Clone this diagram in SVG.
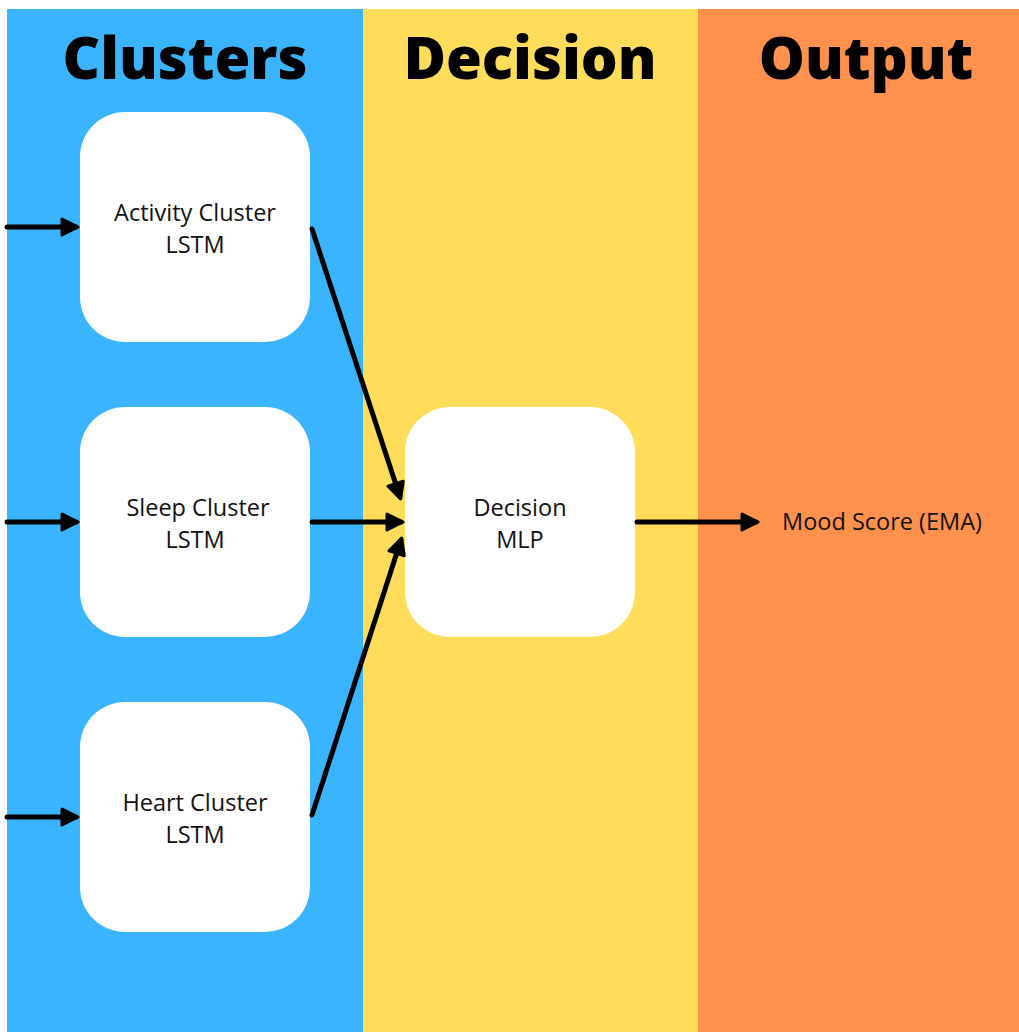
<svg xmlns="http://www.w3.org/2000/svg" width="1019" height="1032" viewBox="0 0 1019 1032">
  <defs>
    <style>
      .title { font-family: "Open Sans", "Liberation Sans", sans-serif; font-weight: 800; font-size: 58px; fill: #000; text-anchor: middle; }
      .label { font-family: "Open Sans", "Liberation Sans", sans-serif; font-size: 23.5px; fill: #111; text-anchor: middle; }
      .node rect { fill: #fff; }
      .edge { stroke: #000; stroke-width: 5; stroke-linecap: round; fill: none; marker-end: url(#head); }
    </style>
    <marker id="head" viewBox="0 0 10 10" refX="8" refY="5" markerWidth="4" markerHeight="4" markerUnits="strokeWidth" orient="auto">
      <path d="M1,1 L9,5 L1,9 Z" fill="#000" stroke="#000" stroke-width="1.5" stroke-linejoin="round"/>
    </marker>
  </defs>

  <rect width="1019" height="1032" fill="#fff"/>

  <!-- column bands -->
  <g id="bands">
    <rect x="7" y="9" width="356" height="1023" fill="#3BB4FF"/>
    <rect x="363" y="9" width="335" height="1023" fill="#FFDD5A"/>
    <rect x="698" y="9" width="321" height="1023" fill="#FF914D"/>
  </g>

  <!-- column headings -->
  <g id="headings">
    <text class="title" x="185" y="79">Clusters</text>
    <text class="title" x="530" y="79">Decision</text>
    <text class="title" x="866" y="79">Output</text>
  </g>

  <g id="activity" class="node">
    <rect x="80" y="112" width="230" height="230" rx="45"/>
    <text class="label" x="195" y="221">Activity Cluster</text>
    <text class="label" x="195" y="253">LSTM</text>
  </g>

  <g id="sleep" class="node">
    <rect x="80" y="407" width="230" height="230" rx="45"/>
    <text class="label" x="198" y="516">Sleep Cluster</text>
    <text class="label" x="195" y="548">LSTM</text>
  </g>

  <g id="heart" class="node">
    <rect x="80" y="702" width="230" height="230" rx="45"/>
    <text class="label" x="195" y="811">Heart Cluster</text>
    <text class="label" x="195" y="843">LSTM</text>
  </g>

  <g id="decision" class="node">
    <rect x="405" y="407" width="230" height="230" rx="45"/>
    <text class="label" x="520" y="516">Decision</text>
    <text class="label" x="520" y="548">MLP</text>
  </g>

  <g id="output">
    <text class="label" x="882" y="530">Mood Score (EMA)</text>
  </g>

  <!-- connectors -->
  <g id="connectors">
    <line class="edge" x1="7" y1="227" x2="76" y2="227"/>
    <line class="edge" x1="7" y1="522" x2="76" y2="522"/>
    <line class="edge" x1="7" y1="817" x2="76" y2="817"/>
    <line class="edge" x1="312" y1="229" x2="400" y2="497"/>
    <line class="edge" x1="312" y1="522" x2="401" y2="522"/>
    <line class="edge" x1="312" y1="815" x2="401" y2="540"/>
    <line class="edge" x1="637" y1="522" x2="756" y2="522"/>
  </g>
</svg>
